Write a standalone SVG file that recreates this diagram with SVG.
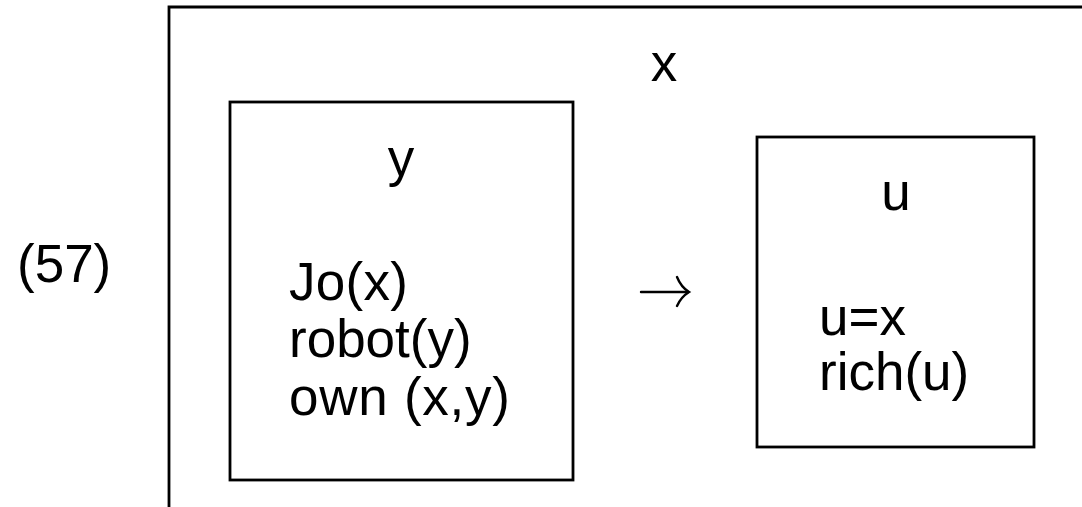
<svg xmlns="http://www.w3.org/2000/svg" width="1082" height="507" viewBox="0 0 1082 507">
  <style>
    .box { fill: none; stroke: #000; stroke-width: 2.8; }
    .t { font-family: "Liberation Sans", Arial, sans-serif; font-size: 53px; fill: #000; }
    .mid { text-anchor: middle; }
    .conn { fill: none; stroke: #000; stroke-width: 2.4; stroke-linecap: round; }
  </style>
  <rect width="1082" height="507" fill="#fff"/>

  <text class="t" x="17" y="282">(57)</text>

  <g id="outer">
    <path class="box" d="M169 510 V7 H1090"/>
    <text class="t mid" x="664" y="81">x</text>
  </g>

  <g id="antecedent">
    <rect class="box" x="230" y="102" width="343" height="378"/>
    <text class="t mid" x="401" y="176">y</text>
    <text class="t" x="289" y="300" textLength="119">Jo(x)</text>
    <text class="t" x="289" y="357">robot(y)</text>
    <text class="t" x="289" y="415" textLength="221">own (x,y)</text>
  </g>

  <g id="consequent">
    <rect class="box" x="757" y="137" width="277" height="310"/>
    <text class="t mid" x="896" y="210">u</text>
    <text class="t" x="819" y="335">u=x</text>
    <text class="t" x="819" y="390">rich(u)</text>
  </g>

  <g id="connectors">
    <path class="conn" d="M641 292 H688"/>
    <path class="conn" d="M677 277 Q681 287 689 292 Q681 297 677 306"/>
  </g>
</svg>
